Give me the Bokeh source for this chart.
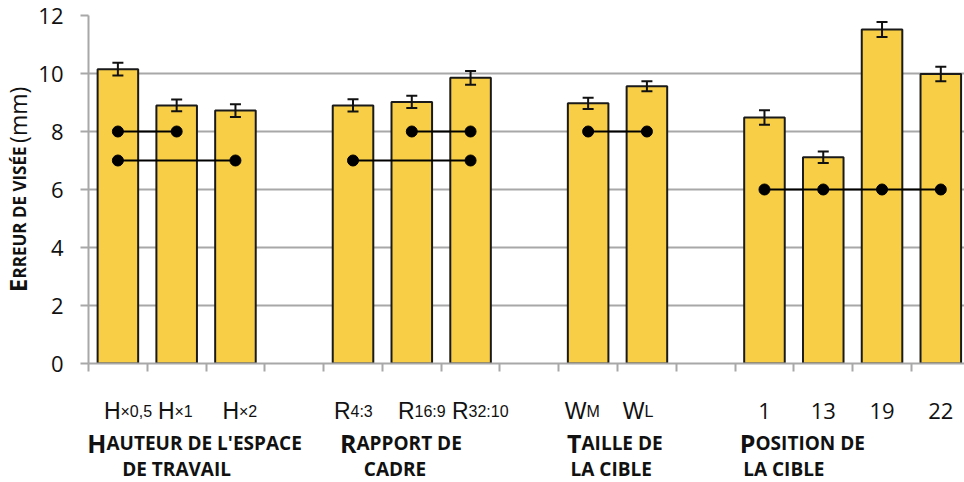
import math
from bokeh.plotting import figure
from bokeh.models import ColumnDataSource, Range1d, FixedTicker, Whisker, TeeHead
from bokeh.layouts import row, column
from bokeh.core.properties import value
from bokeh.embed import file_html
from bokeh.resources import INLINE

# ---------------- data ----------------
group_names = [["Hauteur de l'espace", "de travail"],
               ["Rapport de", "cadre"],
               ["Taille de", "la cible"],
               ["Position de", "la cible"]]
cat_main = [["H", "H", "H"], ["R", "R", "R"], ["W", "W"], ["1", "13", "19", "22"]]
cat_sub = [["×0,5", "×1", "×2"], ["4:3", "16:9", "32:10"], ["M", "L"], ["", "", "", ""]]
means = [[10.15, 8.90, 8.72], [8.90, 9.02, 9.85], [8.97, 9.56], [8.48, 7.11, 11.52, 9.98]]
errors = [[0.22, 0.20, 0.22], [0.21, 0.21, 0.24], [0.19, 0.17], [0.25, 0.20, 0.26, 0.25]]
# conditions linked (not significantly different): (group, members, level)
links = [(0, [0, 1], 8), (0, [0, 2], 7),
         (1, [0, 2], 7), (1, [1, 2], 8),
         (2, [0, 1], 8),
         (3, [0, 1, 2, 3], 6)]
y_ticks = [0, 2, 4, 6, 8, 10, 12]
y_label = ["Erreur de visée", "(mm)"]

# ---------------- layout constants (page pixels) ----------------
TOTAL_W, TOTAL_H = 964, 482
LEFT_W = 34                     # strip holding the y-axis title
MAIN_H = 381                    # main chart height
FL, FT, FW, FH = 88, 15, 876, 348   # data frame left/top/width/height on the page
SLOT = 58.78
BAR_W = 0.69
cat_split_px = [[120, 174, 238.5], [350, 414, 468], [586, 644], [None] * 4]
grp_split_px = [106, 356, 581, 755]
grp_line2_px = [121.7, 363.3, 570, 742.7]
TXT = "#111111"
GRID = "#a8a8a8"

def xd(px):
    return -0.5 + (px - FL) / SLOT

# slot positions
xs = []
slot = 0
for g in range(len(means)):
    xs.append([slot + k for k in range(len(means[g]))])
    slot += len(means[g]) + 1

flat_x = [x for g in xs for x in g]
flat_m = [m for g in means for m in g]
flat_e = [e for g in errors for e in g]

# ---------------- main chart ----------------
p = figure(width=TOTAL_W - LEFT_W, height=MAIN_H,
           x_range=Range1d(-0.5, -0.5 + FW / SLOT), y_range=Range1d(0, 12),
           output_backend="svg", toolbar_location=None, title=None,
           min_border_left=FL - LEFT_W, min_border_right=0, min_border_top=FT,
           min_border_bottom=MAIN_H - FT - FH)
p.outline_line_color = None

p.xgrid.visible = False
p.ygrid.grid_line_color = GRID
p.ygrid.grid_line_width = 2
p.ygrid.ticker = FixedTicker(ticks=y_ticks)

for ax in (p.xaxis[0], p.yaxis[0]):
    ax.axis_line_color = GRID
    ax.axis_line_width = 2
    ax.major_tick_line_color = GRID
    ax.major_tick_line_width = 2
    ax.major_tick_out = 8
    ax.major_tick_in = 0
    ax.minor_tick_line_color = None

p.yaxis.ticker = FixedTicker(ticks=y_ticks)
p.yaxis.major_label_text_font = "Open Sans"
p.yaxis.major_label_text_font_size = "22px"
p.yaxis.major_label_text_color = TXT
p.yaxis.major_label_standoff = 17

xt = [i - 0.5 for i in range(slot)]
p.xaxis.ticker = FixedTicker(ticks=xt)
p.xaxis.major_label_overrides = {t: "" for t in xt}
p.xaxis.major_label_text_font_size = "0px"
p.xaxis.major_label_standoff = 0

src = ColumnDataSource(dict(x=flat_x, top=flat_m,
                            upper=[m + e for m, e in zip(flat_m, flat_e)],
                            lower=[m - e for m, e in zip(flat_m, flat_e)]))
p.vbar(x="x", top="top", bottom=0, width=BAR_W, source=src,
       fill_color="#F9CE47", line_color="#1a1a1a", line_width=2)

wh = Whisker(base="x", upper="upper", lower="lower", source=src, level="annotation",
             line_color="#111111", line_width=2,
             upper_head=TeeHead(size=11, line_color="#111111", line_width=2),
             lower_head=TeeHead(size=11, line_color="#111111", line_width=2))
p.add_layout(wh)

sx0, sx1, sy, dx, dy = [], [], [], [], []
for g, mem, lvl in links:
    pos = [xs[g][k] for k in mem]
    sx0.append(min(pos)); sx1.append(max(pos)); sy.append(lvl)
    for q in pos:
        dx.append(q); dy.append(lvl)
p.segment(x0=sx0, y0=sy, x1=sx1, y1=sy, line_color="black", line_width=2)
p.scatter(x=dx, y=dy, size=11, marker="circle", fill_color="black", line_color="black")

# ---------------- left strip: y-axis title ----------------
pl = figure(width=LEFT_W, height=MAIN_H, x_range=Range1d(0, LEFT_W), y_range=Range1d(0, MAIN_H),
            output_backend="svg", toolbar_location=None, title=None,
            x_axis_type=None, y_axis_type=None,
            min_border_left=0, min_border_right=0, min_border_top=0, min_border_bottom=0)
pl.grid.visible = False
pl.outline_line_color = None

def ly(py):
    return MAIN_H - py

YB = 26.0   # baseline position of the rotated title
def cx(size):
    return YB - 0.388 * size

pl.text(x=[cx(24)], y=[ly(303)], text=[y_label[0][0]], angle=math.pi / 2, text_align="left",
        text_baseline="middle", text_font=value("Open Sans"), text_font_style="bold",
        text_font_size="24px", text_color=TXT)
pl.text(x=[cx(17)], y=[ly(288)], text=[y_label[0][1:].upper()], angle=math.pi / 2, text_align="left",
        text_baseline="middle", text_font=value("Open Sans"), text_font_style="bold",
        text_font_size="17px", text_color=TXT)
pl.text(x=[cx(23)], y=[ly(78)], text=[y_label[1]], angle=math.pi / 2, text_align="right",
        text_baseline="middle", text_font=value("Open Sans"),
        text_font_size="23px", text_color=TXT)

# ---------------- bottom strip: category and group labels ----------------
BOT_H = TOTAL_H - MAIN_H
pb = figure(width=TOTAL_W, height=BOT_H, x_range=Range1d(xd(0), xd(TOTAL_W)), y_range=Range1d(0, BOT_H),
            output_backend="svg", toolbar_location=None, title=None,
            x_axis_type=None, y_axis_type=None,
            min_border_left=0, min_border_right=0, min_border_top=0, min_border_bottom=0)
pb.grid.visible = False
pb.outline_line_color = None

def by(py):
    return TOTAL_H - py

for g in range(len(means)):
    for k in range(len(means[g])):
        main, sub, split = cat_main[g][k], cat_sub[g][k], cat_split_px[g][k]
        if sub == "":
            pb.text(x=[xs[g][k]], y=[by(410)], text=[main], text_align="center",
                    text_baseline="alphabetic", text_font=value("Open Sans"),
                    text_font_size="22px", text_color=TXT)
        else:
            pb.text(x=[xd(split)], y=[by(410)], text=[main], text_align="right",
                    text_baseline="alphabetic", text_font=value("Liberation Sans"),
                    text_font_size="23px", text_color=TXT)
            pb.text(x=[xd(split)], y=[by(411)], text=[sub], text_align="left",
                    text_baseline="alphabetic", text_font=value("Liberation Sans"),
                    text_font_size="16px", text_color=TXT)

for g, lines in enumerate(group_names):
    l1 = lines[0]
    pb.text(x=[xd(grp_split_px[g])], y=[by(442)], text=[l1[0]], text_align="right",
            text_baseline="alphabetic", text_font=value("Open Sans"), text_font_style="bold",
            text_font_size="25px", text_color=TXT)
    pb.text(x=[xd(grp_split_px[g])], y=[by(442)], text=[l1[1:].upper()], text_align="left",
            text_baseline="alphabetic", text_font=value("Open Sans"), text_font_style="bold",
            text_font_size="19px", text_color=TXT)
    pb.text(x=[xd(grp_line2_px[g])], y=[by(468)], text=[lines[1].upper()], text_align="left",
            text_baseline="alphabetic", text_font=value("Open Sans"), text_font_style="bold",
            text_font_size="19px", text_color=TXT)

layout = column(row(pl, p), pb)
open("out.html", "w").write(file_html(layout, INLINE))
